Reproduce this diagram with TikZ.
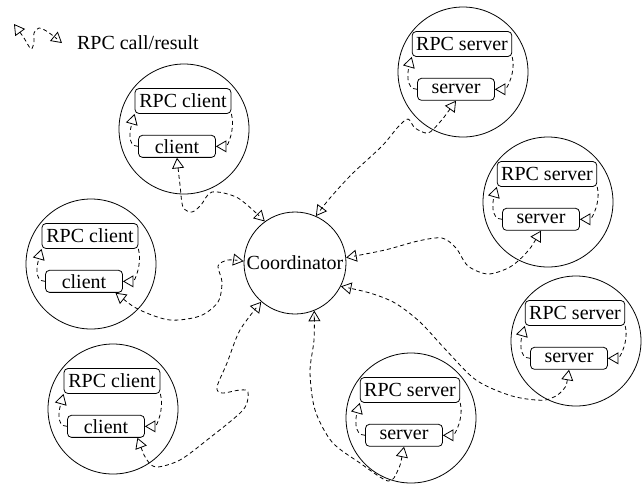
\documentclass[tikz,border=0pt]{standalone}
\usepackage{fontspec}
\setmainfont{Liberation Serif}
\usetikzlibrary{arrows}
\usetikzlibrary{positioning}

\tikzset{
  host/.style = {draw, circle, minimum size=65pt, inner sep=0pt},
  stub/.style = {draw, rounded corners=2pt, minimum width=48pt, minimum height=12.5pt, inner sep=2pt},
  proc/.style = {draw, rounded corners=2pt, minimum width=38.5pt, minimum height=11pt, inner sep=2pt},
  rpc/.style = {dash pattern=on 2pt off 1.5pt},
  call/.style = {rpc, open triangle 60-open triangle 60},
}

\begin{document}
\begin{tikzpicture}[x=0.5pt, y=-0.5pt, font=\fontsize{10}{12}\selectfont]
\useasboundingbox (0,0) rectangle (642,484);

% key
\coordinate (key-a) at (14,24);
\coordinate (key-b) at (62,43);
\draw[call] plot[smooth] coordinates {(key-a) (24,38) (31,49) (34,42) (34,33) (39,28) (48,32) (key-b)};
\node[anchor=west] (key) at (70,43) {RPC call/result};

\node[draw, circle, minimum size=51pt, inner sep=0pt] (coord) at (295,263) {Coordinator};

% hosts: clients c*, servers s*
\foreach \n/\x/\y/\role in {c1/184/129/client, c2/91/264/client, c3/113/409/client,
    s1/463/72/server, s2/548/202/server, s3/576/341/server, s4/411/418/server}{
  \node[host] (host-\n) at (\x,\y) {};
  \node[stub] (rpc-\n) at (\x-1,\y-28) {RPC \role};
  \node[proc, below=10.5pt of rpc-\n, xshift=-3pt] (\n) {\role};
  \draw[rpc, -open triangle 60] (\n.west) .. controls +(-12,0) and +(-4,14) .. (rpc-\n.south west);
  \draw[rpc, -open triangle 60] (rpc-\n.south east) .. controls +(4,14) and +(12,0) .. (\n.east);
}

\draw[call] plot[smooth] coordinates {(c1.south) (180,185) (183,207) (192,212) (201,205) (212,192) (238,198) (coord.126)};
\draw[call] plot[smooth] coordinates {(c2.-20) (140,310) (170,320) (200,316) (218,302) (222,282) (218,266) (228,260) (coord.178)};
\draw[call] plot[smooth] coordinates {(c3.-20) (147,460) (157,467) (180,460) (207,440) (243,410) (248,392) (240,390) (222,393) (217,387) (227,363) (240,330) (coord.229)};
\draw[call] plot[smooth] coordinates {(s1.south) (440,122) (428,133) (415,128) (408,119) (398,127) (382,146) (352,174) (330,198) (coord.66)};
\draw[call] plot[smooth] coordinates {(s2.south) (527,252) (510,267) (488,274) (468,266) (456,248) (442,238) (418,241) (385,250) (coord.6)};
\draw[call] plot[smooth] coordinates {(s3.south) (563,390) (545,400) (512,396) (476,380) (446,350) (420,322) (395,303) (370,293) (coord.-27)};
\draw[call] plot[smooth] coordinates {(s4.south) (398,470) (388,481) (360,463) (332,442) (315,410) (310,372) (314,340) (coord.-68)};
\end{tikzpicture}
\end{document}
